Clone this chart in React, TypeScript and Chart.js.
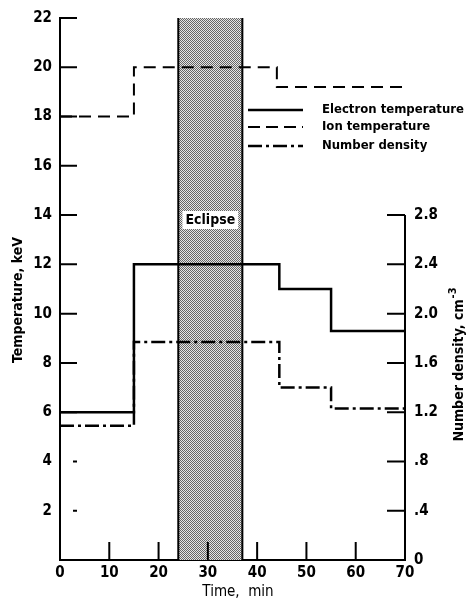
import { useEffect, useRef } from 'react';
import { Chart, registerables } from 'chart.js';

Chart.register(...registerables);

const electronTime = [0, 15, 44.5, 55, 70];
const electronTemp = [6, 12, 11, 9.3, 9.3];
const ionTime = [0, 15, 44, 70];
const ionTemp = [18, 20, 19.2, 19.2];
const densityTime = [0, 15, 44.5, 55, 70];
const densityValue = [1.09, 1.77, 1.4, 1.23, 1.23];
const eclipseSpan = [24, 37];
const xTickValues = [10, 20, 30, 40, 50, 60];
const leftTickValues = [2, 4, 6, 8, 10, 12, 14, 16, 18, 20, 22];
const rightTickValues = [0.4, 0.8, 1.2, 1.6, 2.0, 2.4, 2.8];
const rightAxisTop = 2.8;
const legendLabels = ['Electron temperature', 'Ion temperature', 'Number density'];

const FONT = '"Liberation Sans Narrow", "DejaVu Sans Condensed", "Liberation Sans", sans-serif';

const pts = (xs: number[], ys: number[]) => xs.map((x, i) => ({ x, y: ys[i] }));

function makePattern(ctx: CanvasRenderingContext2D) {
  const c = document.createElement('canvas');
  c.width = 2;
  c.height = 2;
  const p = c.getContext('2d')!;
  p.fillStyle = '#e6e6e6';
  p.fillRect(0, 0, 2, 2);
  p.fillStyle = '#666';
  p.fillRect(0, 0, 1, 1);
  p.fillRect(1, 1, 1, 1);
  return ctx.createPattern(c, 'repeat');
}

const decorPlugin = {
  id: 'decor',
  beforeDatasetsDraw(chart: any) {
    const { ctx, scales } = chart;
    const x = scales.x, y = scales.y;
    const x0 = x.getPixelForValue(eclipseSpan[0]);
    const x1 = x.getPixelForValue(eclipseSpan[1]);
    const yt = y.getPixelForValue(22);
    const yb = y.getPixelForValue(0);
    ctx.save();
    ctx.fillStyle = makePattern(ctx) || '#999';
    ctx.fillRect(x0, yt, x1 - x0, yb - yt);
    ctx.strokeStyle = '#000';
    ctx.lineWidth = 2;
    ctx.beginPath();
    ctx.moveTo(x0, yt);
    ctx.lineTo(x0, yb);
    ctx.moveTo(x1, yt);
    ctx.lineTo(x1, yb);
    ctx.stroke();
    ctx.restore();
  },
  afterDatasetsDraw(chart: any) {
    const { ctx, scales } = chart;
    const x = scales.x, y = scales.y, y2 = scales.y2;
    const left = x.getPixelForValue(0);
    const right = x.getPixelForValue(70);
    const bottom = y.getPixelForValue(0);
    ctx.save();
    ctx.strokeStyle = '#000';
    ctx.fillStyle = '#000';
    ctx.lineWidth = 2;
    // bottom ticks (inward)
    ctx.beginPath();
    xTickValues.forEach((v) => {
      const px = x.getPixelForValue(v);
      ctx.moveTo(px, bottom);
      ctx.lineTo(px, bottom - 18);
    });
    // left ticks
    leftTickValues.forEach((v) => {
      const py = y.getPixelForValue(v);
      if (v <= 4) {
        ctx.moveTo(left + 13, py);
        ctx.lineTo(left + 17, py);
      } else {
        ctx.moveTo(left, py);
        ctx.lineTo(left + 17, py);
      }
    });
    // right axis line & ticks
    ctx.moveTo(right, bottom);
    ctx.lineTo(right, y2.getPixelForValue(rightAxisTop));
    rightTickValues.forEach((v) => {
      const py = y2.getPixelForValue(v);
      ctx.moveTo(right, py);
      ctx.lineTo(right - 18, py);
    });
    ctx.stroke();

    // Eclipse label
    const cx = (x.getPixelForValue(eclipseSpan[0]) + x.getPixelForValue(eclipseSpan[1])) / 2;
    const cy = y.getPixelForValue(13.8);
    ctx.font = `bold 14px ${FONT}`;
    const tw = ctx.measureText('Eclipse').width;
    ctx.fillStyle = '#fff';
    ctx.fillRect(cx - tw / 2 - 3, cy - 9, tw + 6, 18);
    ctx.fillStyle = '#000';
    ctx.textAlign = 'center';
    ctx.textBaseline = 'middle';
    ctx.fillText('Eclipse', cx, cy);

    // legend
    const dashes = [[], [12, 6], [14, 4, 3, 4]];
    const legendY = [110, 127, 146];
    ctx.font = `bold 13px ${FONT}`;
    ctx.textAlign = 'left';
    legendLabels.forEach((lab, i) => {
      ctx.beginPath();
      ctx.setLineDash(dashes[i]);
      ctx.lineWidth = i === 1 ? 2 : 2.5;
      ctx.moveTo(248, legendY[i]);
      ctx.lineTo(303, legendY[i]);
      ctx.stroke();
      ctx.setLineDash([]);
      ctx.fillText(lab, 322, legendY[i]);
    });

    // titles
    ctx.save();
    ctx.translate(18, 300);
    ctx.rotate(-Math.PI / 2);
    ctx.font = `bold 14px ${FONT}`;
    ctx.textAlign = 'center';
    ctx.fillText('Temperature, keV', 0, 0);
    ctx.restore();

    ctx.save();
    ctx.translate(459, 365);
    ctx.rotate(-Math.PI / 2);
    ctx.font = `bold 14px ${FONT}`;
    const main = 'Number density, cm';
    const mw = ctx.measureText(main).width;
    ctx.font = `bold 11px ${FONT}`;
    const sw = ctx.measureText('-3').width;
    const start = -(mw + sw) / 2;
    ctx.textAlign = 'left';
    ctx.font = `bold 14px ${FONT}`;
    ctx.fillText(main, start, 0);
    ctx.font = `bold 11px ${FONT}`;
    ctx.fillText('-3', start + mw + 1, -6);
    ctx.restore();

    ctx.font = `15px ${FONT}`;
    ctx.textAlign = 'center';
    ctx.fillText('Time,  min', 238, 592);
    ctx.restore();
  },
};

export default function App() {
  const ref = useRef<HTMLCanvasElement>(null);
  useEffect(() => {
    if (!ref.current) return;
    const tickFont = { family: FONT, size: 15, weight: 'bold' as const };
    const chart = new Chart(ref.current, {
      type: 'line',
      data: {
        datasets: [
          {
            label: legendLabels[0],
            data: pts(electronTime, electronTemp),
            borderColor: '#000',
            borderWidth: 2.5,
            stepped: true,
            pointRadius: 0,
            yAxisID: 'y',
          },
          {
            label: legendLabels[1],
            data: pts(ionTime, ionTemp),
            borderColor: '#000',
            borderWidth: 2,
            borderDash: [12, 7],
            stepped: true,
            pointRadius: 0,
            yAxisID: 'y',
          },
          {
            label: legendLabels[2],
            data: pts(densityTime, densityValue),
            borderColor: '#000',
            borderWidth: 2.5,
            borderDash: [14, 4, 3, 4],
            stepped: true,
            pointRadius: 0,
            yAxisID: 'y2',
          },
        ],
      },
      options: {
        animation: false,
        responsive: false,
        maintainAspectRatio: false,
        layout: { padding: { top: 15, left: 0, right: 0, bottom: 0 } },
        plugins: { legend: { display: false }, tooltip: { enabled: false } },
        scales: {
          x: {
            type: 'linear',
            min: 0,
            max: 70,
            afterFit: (s: any) => { s.height = 40; },
            grid: { drawOnChartArea: false, drawTicks: false },
            border: { display: true, color: '#000', width: 2 },
            ticks: { stepSize: 10, color: '#000', font: tickFont, padding: 4, maxRotation: 0 },
          },
          y: {
            type: 'linear',
            position: 'left',
            min: 0,
            max: 22,
            afterFit: (s: any) => { s.width = 60; },
            grid: { drawOnChartArea: false, drawTicks: false },
            border: { display: true, color: '#000', width: 2 },
            ticks: {
              stepSize: 2,
              color: '#000',
              font: tickFont,
              padding: 8,
              callback: (v: any) => (v === 0 ? '' : String(v)),
            },
          },
          y2: {
            type: 'linear',
            position: 'right',
            min: 0,
            max: 4.4,
            afterFit: (s: any) => { s.width = 63; },
            grid: { drawOnChartArea: false, drawTicks: false },
            border: { display: false },
            ticks: {
              stepSize: 0.4,
              color: '#000',
              font: tickFont,
              padding: 9,
              callback: (v: any) => {
                const n = Number(v);
                if (n > rightAxisTop + 0.01) return '';
                if (n === 0) return '0';
                if (n < 1) return '.' + Math.round(n * 10);
                return n.toFixed(1);
              },
            },
          },
        },
      },
      plugins: [decorPlugin],
    } as any);
    return () => chart.destroy();
  }, []);
  return (
    <div style={{ position: 'absolute', left: 0, top: 0, width: 468, height: 600, background: '#fff' }}>
      <canvas ref={ref} width={468} height={600} />
    </div>
  );
}
